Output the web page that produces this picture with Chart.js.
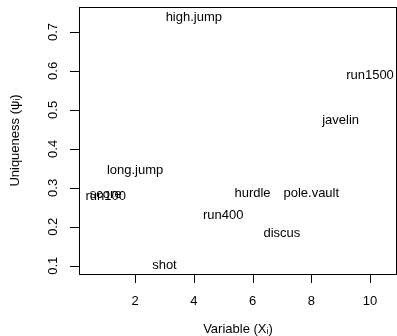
<!DOCTYPE html>
<html>
<head>
<meta charset="utf-8">
<script src="https://cdn.jsdelivr.net/npm/chart.js@4/dist/chart.umd.min.js"></script>
<style>
html,body{margin:0;padding:0;background:#fff;}
#wrap{width:397px;height:336px;}
</style>
</head>
<body>
<div id="wrap"><canvas id="c"></canvas></div>
<script>
// uniquenesses from the factor analysis, one per variable
const varNames=['run100','long.jump','shot','high.jump','run400','hurdle','discus','pole.vault','javelin','run1500','score'];
const varIndex=[1,2,3,4,5,6,7,8,9,10,1];
const uniq=[0.280,0.348,0.104,0.739,0.233,0.288,0.185,0.288,0.476,0.590,0.286];
const xTicks=[2,4,6,8,10];
const yTicks=[0.1,0.2,0.3,0.4,0.5,0.6,0.7];

const FONT='13px "Liberation Sans", Arial, sans-serif';

// R-style box, ticks, labels and text markers
const rAxes={
  id:'rAxes',
  afterDraw(chart){
    const ctx=chart.ctx, a=chart.chartArea, xs=chart.scales.x, ys=chart.scales.y;
    ctx.save();
    ctx.strokeStyle='#000'; ctx.lineWidth=1;
    ctx.strokeRect(Math.round(a.left)+0.5,Math.round(a.top)+0.5,Math.round(a.right-a.left)-1,Math.round(a.bottom-a.top));
    ctx.fillStyle='#000'; ctx.font=FONT;
    // x axis
    ctx.beginPath();
    xTicks.forEach(v=>{const px=Math.round(xs.getPixelForValue(v))+0.5; ctx.moveTo(px,a.bottom); ctx.lineTo(px,a.bottom+9);});
    ctx.stroke();
    ctx.textAlign='center'; ctx.textBaseline='middle';
    xTicks.forEach(v=>ctx.fillText(String(v),xs.getPixelForValue(v),301));
    ctx.fillText('Variable (X\u1d62)',(a.left+a.right)/2,329);
    // y axis
    ctx.beginPath();
    yTicks.forEach(v=>{const py=Math.round(ys.getPixelForValue(v))+0.5; ctx.moveTo(a.left,py); ctx.lineTo(a.left-9,py);});
    ctx.stroke();
    yTicks.forEach(v=>{
      ctx.save(); ctx.translate(53,ys.getPixelForValue(v)); ctx.rotate(-Math.PI/2);
      ctx.fillText(v.toFixed(1),0,0); ctx.restore();
    });
    ctx.save(); ctx.translate(15,(a.top+a.bottom)/2); ctx.rotate(-Math.PI/2);
    ctx.fillText('Uniqueness (\u03c8\u1d62)',0,0); ctx.restore();
    // variable names at their points
    const meta=chart.getDatasetMeta(0);
    ctx.save();
    ctx.beginPath(); ctx.rect(a.left,a.top,a.right-a.left,a.bottom-a.top); ctx.clip();
    meta.data.forEach((pt,i)=>ctx.fillText(varNames[i],pt.x,pt.y+1));
    ctx.restore();
    ctx.restore();
  }
};

new Chart(document.getElementById('c'),{
  type:'scatter',
  data:{datasets:[{data:varIndex.map((x,i)=>({x,y:uniq[i]})),pointRadius:0,pointHoverRadius:0}]},
  options:{
    responsive:true,maintainAspectRatio:false,animation:false,
    layout:{padding:{left:79,right:0,top:7,bottom:62}},
    plugins:{legend:{display:false},tooltip:{enabled:false}},
    scales:{
      x:{type:'linear',min:0.09,max:10.92,display:false},
      y:{type:'linear',min:0.079,max:0.764,display:false}
    }
  },
  plugins:[rAxes]
});
</script>
</body>
</html>
